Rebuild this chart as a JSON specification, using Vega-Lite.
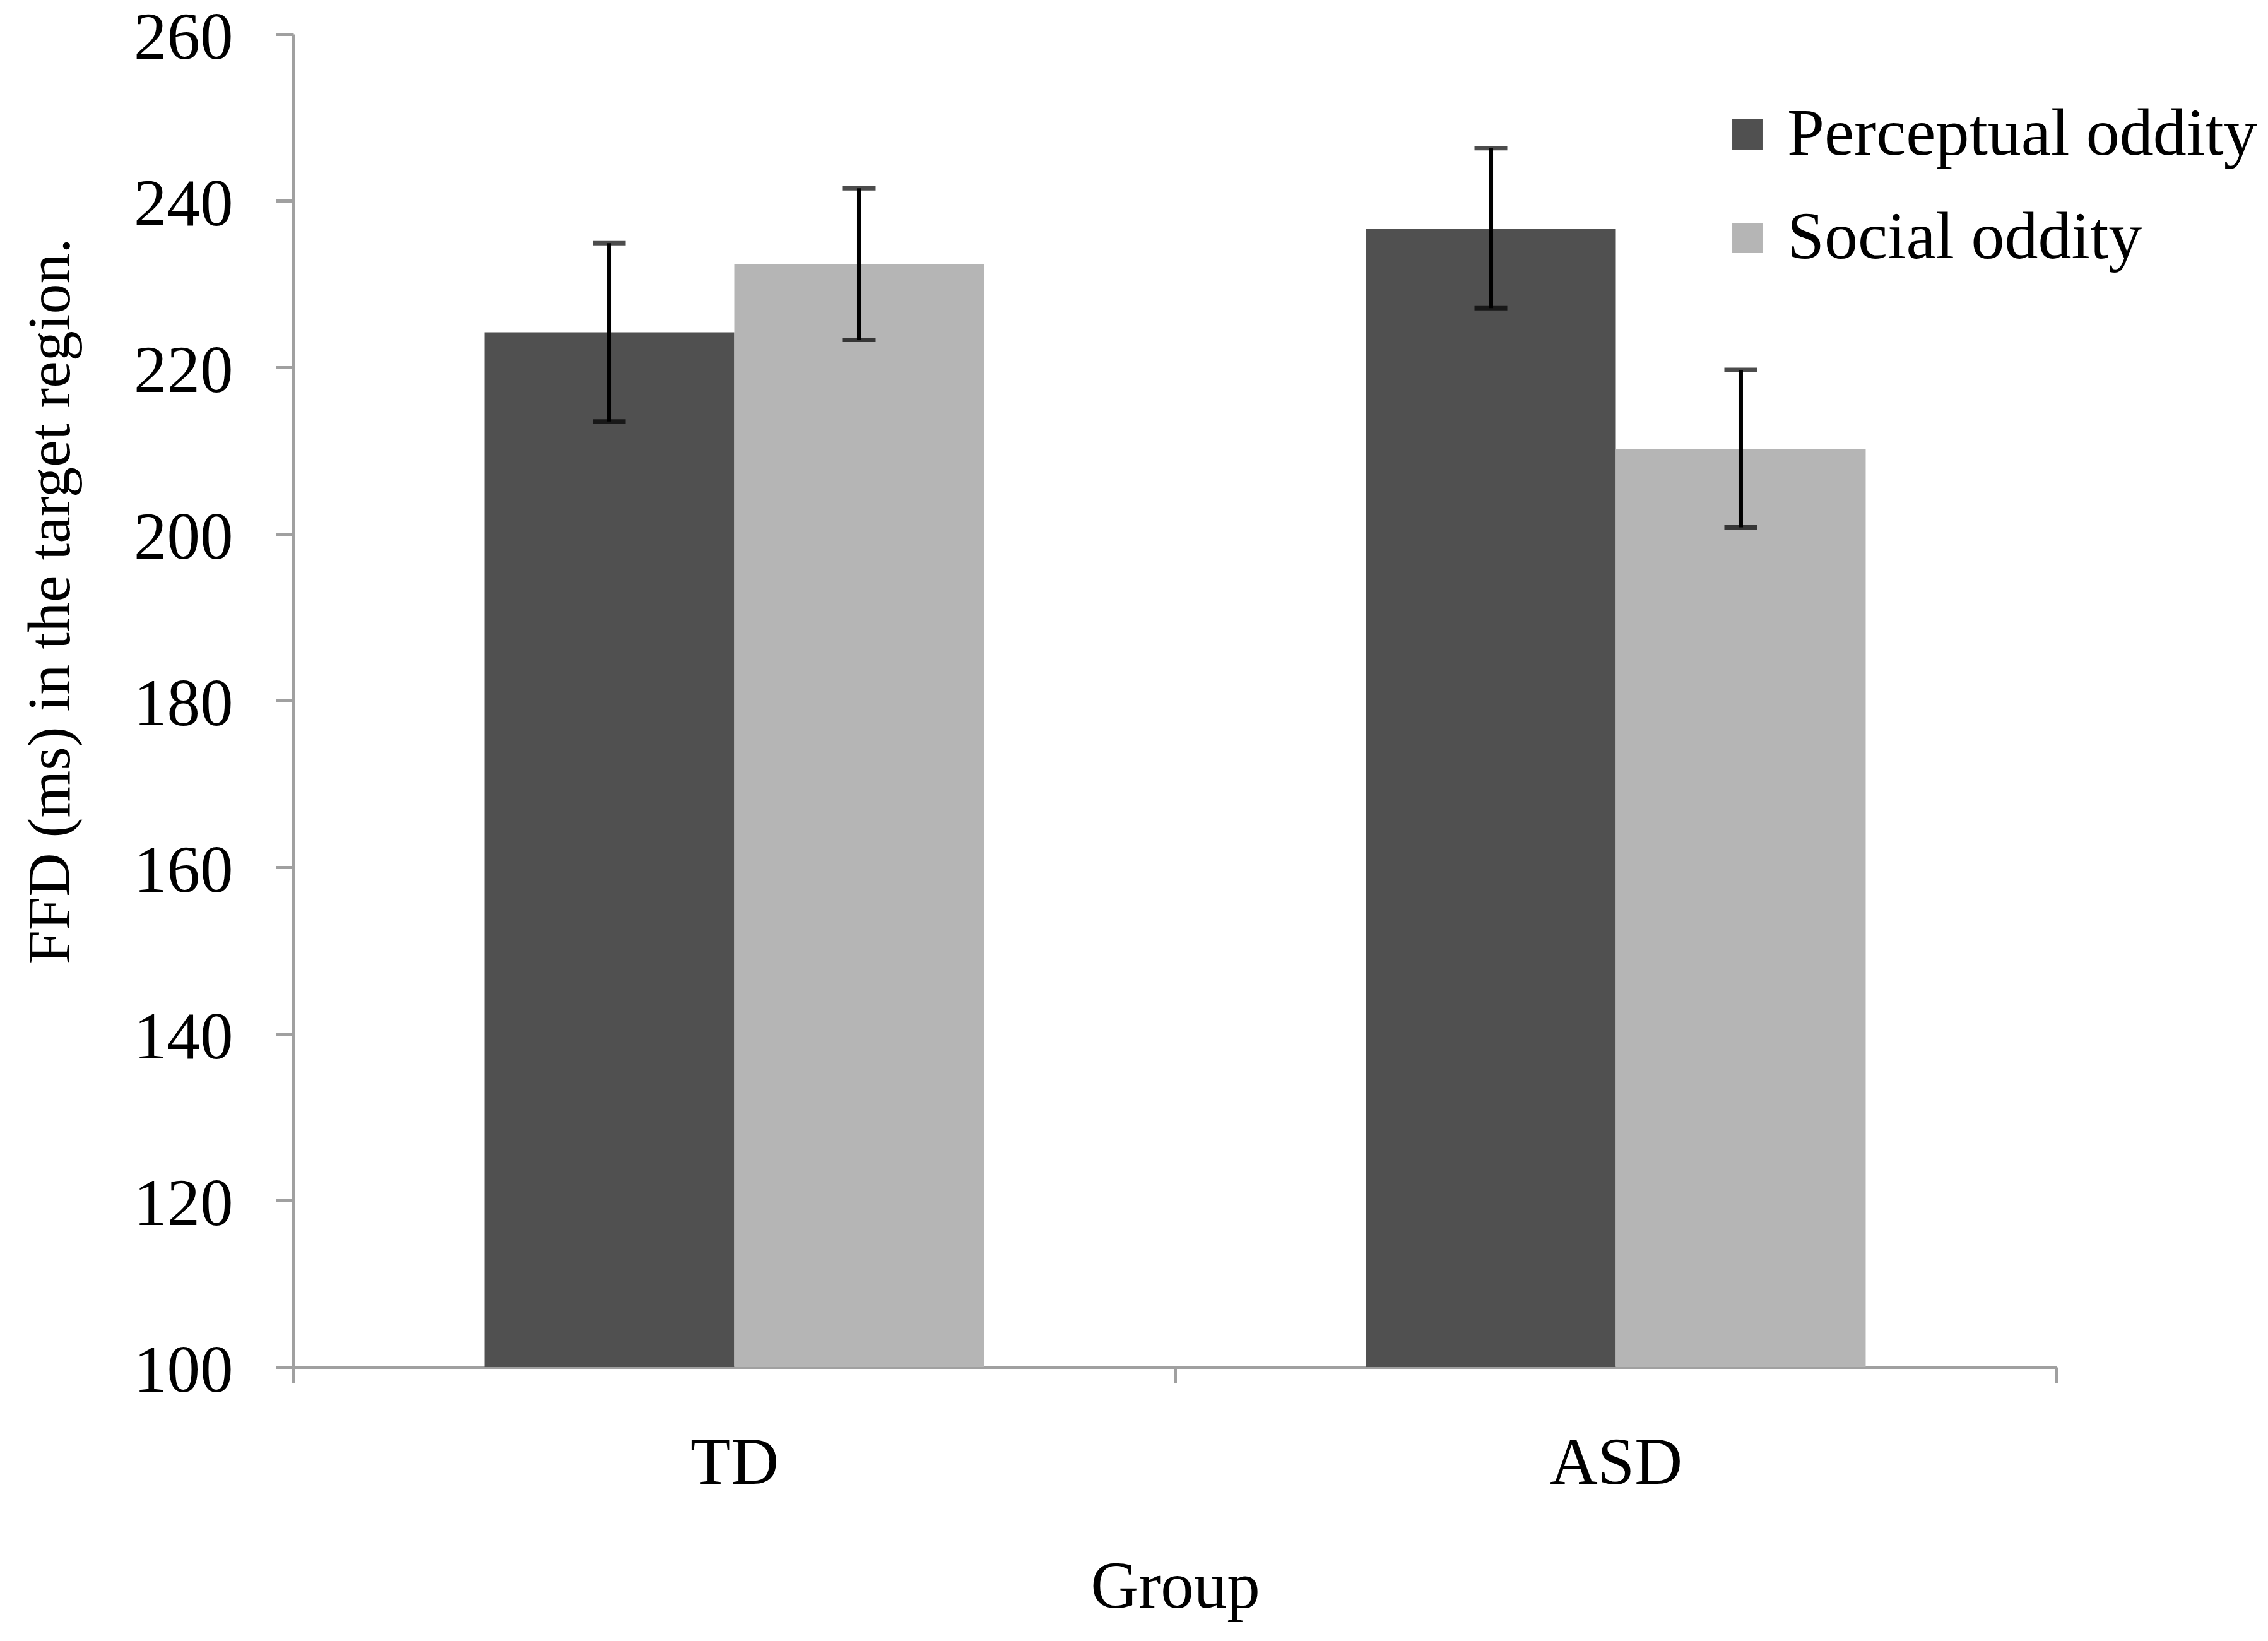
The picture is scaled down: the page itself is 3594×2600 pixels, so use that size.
{
  "$schema": "https://vega.github.io/schema/vega-lite/v6.json",
  "width": 2794,
  "height": 2112,
  "autosize": {"type": "none"},
  "padding": {"left": 465, "top": 54, "right": 335, "bottom": 434},
  "background": "white",
  "data": {
    "values": [
      {"group": "TD", "condition": "Perceptual oddity", "mean": 224.2, "lo": 213.5, "hi": 234.9},
      {"group": "TD", "condition": "Social oddity", "mean": 232.4, "lo": 223.3, "hi": 241.5},
      {"group": "ASD", "condition": "Perceptual oddity", "mean": 236.6, "lo": 227.1, "hi": 246.3},
      {"group": "ASD", "condition": "Social oddity", "mean": 210.2, "lo": 200.8, "hi": 219.7}
    ]
  },
  "config": {
    "font": "Liberation Serif",
    "view": {"stroke": null},
    "axis": {
      "grid": false,
      "domainColor": "#a0a0a0",
      "domainWidth": 5,
      "tickColor": "#a0a0a0",
      "tickWidth": 5,
      "labelFont": "Liberation Serif",
      "labelFontSize": 105,
      "labelColor": "black",
      "labelLimit": 0,
      "titleFont": "Liberation Serif",
      "titleFontSize": 105,
      "titleFontWeight": "normal",
      "titleColor": "black"
    },
    "legend": {
      "orient": "none",
      "legendX": 2251,
      "legendY": 106,
      "title": null,
      "symbolType": "square",
      "symbolSize": 2300,
      "symbolStrokeWidth": 0,
      "labelFont": "Liberation Serif",
      "labelFontSize": 106,
      "labelColor": "black",
      "labelOffset": 10,
      "rowPadding": 58,
      "labelLimit": 0
    }
  },
  "encoding": {
    "x": {
      "field": "group",
      "type": "nominal",
      "sort": ["TD", "ASD"],
      "scale": {"paddingInner": 0, "paddingOuter": 0},
      "axis": {
        "title": "Group",
        "labelAngle": 0,
        "tickBand": "extent",
        "tickSize": 25,
        "labelPadding": 76,
        "titleY": 348,
        "titleBaseline": "middle"
      }
    },
    "xOffset": {
      "field": "condition",
      "type": "nominal",
      "sort": ["Perceptual oddity", "Social oddity"],
      "scale": {"paddingInner": 0, "paddingOuter": 0.764}
    }
  },
  "layer": [
    {
      "mark": {"type": "bar"},
      "encoding": {
        "y": {
          "field": "mean",
          "type": "quantitative",
          "title": "FFD (ms) in the target region.",
          "scale": {"domain": [100, 260], "zero": false, "nice": false},
          "axis": {
            "values": [100, 120, 140, 160, 180, 200, 220, 240, 260],
            "tickSize": 28,
            "labelPadding": 68,
            "labelOffset": 6,
            "titleFontSize": 96,
            "titleX": -385,
            "titleY": 898,
            "titleBaseline": "middle"
          }
        },
        "y2": {"datum": 100},
        "color": {
          "field": "condition",
          "type": "nominal",
          "sort": ["Perceptual oddity", "Social oddity"],
          "scale": {"range": ["#505050", "#b5b5b5"]}
        }
      }
    },
    {
      "mark": {"type": "rule", "color": "black", "strokeWidth": 7},
      "encoding": {
        "y": {"field": "lo", "type": "quantitative", "title": "FFD (ms) in the target region."},
        "y2": {"field": "hi"}
      }
    },
    {
      "mark": {"type": "tick", "color": "black", "thickness": 7, "size": 52, "orient": "horizontal"},
      "encoding": {
        "y": {"field": "lo", "type": "quantitative", "title": "FFD (ms) in the target region."}
      }
    },
    {
      "mark": {"type": "tick", "color": "black", "thickness": 7, "size": 52, "orient": "horizontal"},
      "encoding": {
        "y": {"field": "hi", "type": "quantitative", "title": "FFD (ms) in the target region."}
      }
    }
  ]
}
